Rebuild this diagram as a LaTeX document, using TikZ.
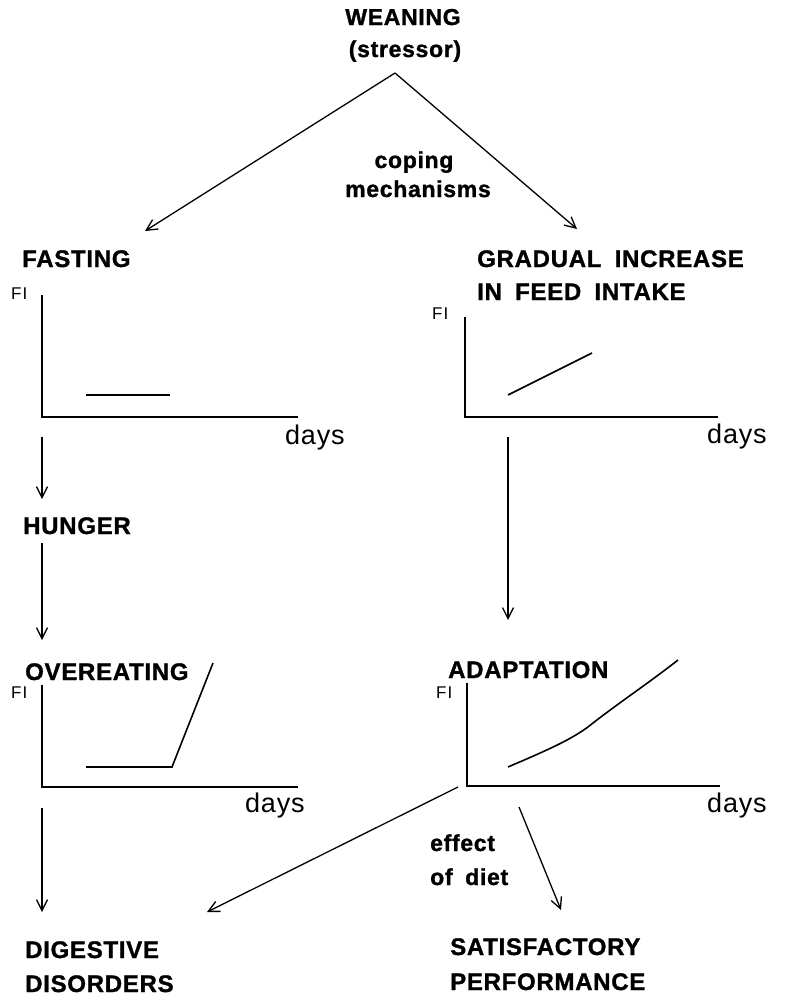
\documentclass[tikz,border=0pt]{standalone}
\usepackage{fontspec}
\setmainfont{Liberation Sans}
\newfontfamily\hvb[LetterSpace=3,FakeBold=1.2]{Liberation Sans Bold}
\newfontfamily\hvr[LetterSpace=6]{Liberation Sans}
\newfontfamily\hvd[LetterSpace=3]{Liberation Sans}
\usetikzlibrary{arrows.meta}
\tikzset{
  lbl/.style={inner sep=0pt, anchor=base west, font=\hvb\fontsize{24}{26}\selectfont},
  lblc/.style={inner sep=0pt, anchor=base, font=\hvb\fontsize{23}{26}\selectfont},
  fi/.style={inner sep=0pt, anchor=base west, font=\hvr\fontsize{17}{18}\selectfont},
  dayslbl/.style={inner sep=0pt, anchor=base west, font=\hvd\fontsize{27}{28}\selectfont},
  conn/.style={line width=1.3pt, -{Straight Barb[length=11pt,width=11pt,line width=1.3pt]}},
  axis/.style={line width=2pt},
  curve/.style={line width=1.6pt},
}
\begin{document}
\begin{tikzpicture}[x=1pt,y=-1pt]
\useasboundingbox (0,0) rectangle (786,996);
% top
\node[lblc] (wean) at (403,25) {WEANING};
\node[lblc] (stress) at (405,57) {(stressor)};
\node[lblc] (coping) at (414,168) {coping};
\node[lblc] (mech) at (418,197) {mechanisms};
\coordinate (apex) at (395,73);
% left column labels
\node[lbl] (fasting) at (22,267) {FASTING};
\node[lbl] (gradual) at (477,267) {GRADUAL\hspace{0.55em}INCREASE};
\node[lbl] (feed) at (477,300) {IN\hspace{0.55em}FEED\hspace{0.55em}INTAKE};
\coordinate (fastTip) at (145,231);
\coordinate (gradTip) at (577,229);
\draw[conn] (apex) -- (fastTip);
\draw[conn] (apex) -- (gradTip);
% graph 1 (fasting)
\node[fi] (fi1) at (11,299) {FI};
\coordinate (o1) at (42,417);
\draw[axis] (42,295) -- (o1) -- (298,417);
\draw[curve] (86,395) -- (170,395);
\node[dayslbl] (days1) at (285,444) {days};
% graph 2 (gradual)
\node[fi] (fi2) at (432,319) {FI};
\coordinate (o2) at (465,417);
\draw[axis] (465,317) -- (o2) -- (718,417);
\draw[curve] (508,395) -- (592,353);
\node[dayslbl] (days2) at (707,443) {days};
% left column
\coordinate (a1s) at (42,437);
\coordinate (a1e) at (42,499);
\draw[conn] (a1s) -- (a1e);
\node[lbl] (hunger) at (23,534) {HUNGER};
\coordinate (a2s) at (42,543);
\coordinate (a2e) at (42,640);
\draw[conn] (a2s) -- (a2e);
\node[lbl] (over) at (25,680) {OVEREATING};
% graph 3 (overeating)
\node[fi] (fi3) at (11,698) {FI};
\coordinate (o3) at (42,787);
\draw[axis] (42,685) -- (o3) -- (298,787);
\draw[curve] (86,767) -- (172,767) -- (213,663);
\node[dayslbl] (days3) at (245,812) {days};
\coordinate (a3s) at (42,808);
\coordinate (a3e) at (42,912);
\draw[conn] (a3s) -- (a3e);
\node[lbl] (dig) at (25,958) {DIGESTIVE};
\node[lbl] (dis) at (25,992) {DISORDERS};
% right column
\coordinate (a4s) at (508,437);
\coordinate (a4e) at (508,620);
\draw[conn] (a4s) -- (a4e);
\node[lbl] (adapt) at (448,678) {ADAPTATION};
% graph 4 (adaptation)
\node[fi] (fi4) at (436,698) {FI};
\coordinate (o4) at (467,786);
\draw[axis] (467,683) -- (o4) -- (720,786);
\draw[curve] (508,767) .. controls (550,749) and (575,738) .. (593,723) .. controls (620,702) and (650,682) .. (678,660);
\node[dayslbl] (days4) at (707,812) {days};
\coordinate (a5s) at (458,787);
\coordinate (a5e) at (207,912);
\draw[conn] (a5s) -- (a5e);
\node[lbl, font=\hvb\fontsize{23}{26}\selectfont] (effect) at (430,851) {effect};
\node[lbl, font=\hvb\fontsize{23}{26}\selectfont] (diet) at (430,885) {of\hspace{0.55em}diet};
\coordinate (a6s) at (519,807);
\coordinate (a6e) at (561,910);
\draw[conn] (a6s) -- (a6e);
\node[lbl] (sat) at (450,955) {SATISFACTORY};
\node[lbl] (perf) at (450,990) {PERFORMANCE};
\end{tikzpicture}
\end{document}
